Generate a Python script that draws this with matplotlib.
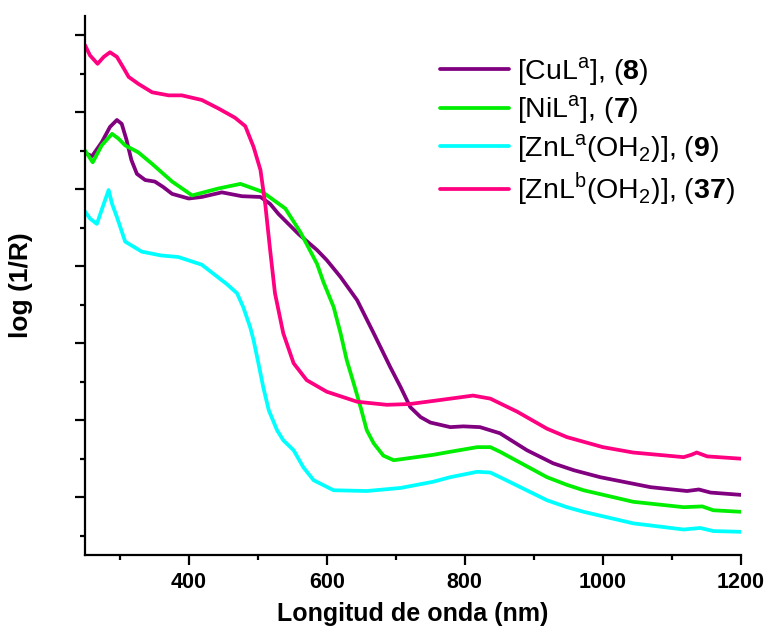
import numpy as np
import matplotlib
matplotlib.use("Agg")
import matplotlib.pyplot as plt
from matplotlib.ticker import MultipleLocator, NullFormatter

plt.rcParams['font.family'] = ['Liberation Sans', 'DejaVu Sans']
plt.rcParams['mathtext.fontset'] = 'custom'
plt.rcParams['mathtext.rm'] = 'Liberation Sans'
plt.rcParams['mathtext.bf'] = 'Liberation Sans:bold'

# Espectros de reflectancia difusa (unidades arbitrarias)
x_cu = [250, 260, 274, 286, 296, 303, 310, 317, 325, 337, 351, 363, 376, 400, 419,
        448, 477, 504, 518, 530, 559, 586, 600, 620, 644, 668, 692, 707, 721, 736,
        750, 779, 798, 822, 851, 890, 928, 958, 996, 1069, 1122, 1139, 1156, 1200]
y_cu = [5.47, 5.43, 5.61, 5.81, 5.90, 5.85, 5.64, 5.38, 5.20, 5.12, 5.10, 5.03, 4.94,
        4.88, 4.90, 4.96, 4.91, 4.90, 4.81, 4.68, 4.42, 4.21, 4.08, 3.86, 3.56, 3.13,
        2.69, 2.43, 2.17, 2.04, 1.97, 1.91, 1.92, 1.91, 1.83, 1.61, 1.44, 1.35, 1.26,
        1.13, 1.08, 1.10, 1.06, 1.03]

x_ni = [250, 261, 274, 289, 298, 308, 327, 347, 376, 405, 443, 475, 506, 540, 562,
        586, 595, 610, 620, 629, 639, 649, 658, 668, 682, 697, 754, 779, 818, 837,
        851, 919, 948, 972, 1044, 1117, 1144, 1160, 1200]
y_ni = [5.50, 5.35, 5.57, 5.72, 5.66, 5.57, 5.48, 5.33, 5.10, 4.92, 5.01, 5.07, 4.97,
        4.75, 4.44, 4.03, 3.80, 3.47, 3.13, 2.78, 2.48, 2.17, 1.87, 1.70, 1.54, 1.48,
        1.55, 1.59, 1.65, 1.65, 1.59, 1.26, 1.16, 1.09, 0.94, 0.87, 0.88, 0.83, 0.81]

x_zna = [250, 257, 267, 277, 284, 289, 296, 308, 332, 360, 385, 419, 455, 470, 479,
         489, 494, 501, 508, 516, 528, 537, 552, 566, 581, 610, 658, 707, 754, 779,
         818, 837, 851, 919, 948, 972, 1044, 1117, 1141, 1160, 1200]
y_zna = [4.71, 4.62, 4.55, 4.81, 4.99, 4.81, 4.64, 4.32, 4.19, 4.14, 4.12, 4.02, 3.77,
         3.65, 3.47, 3.21, 3.04, 2.74, 2.43, 2.13, 1.87, 1.74, 1.61, 1.39, 1.22, 1.09,
         1.08, 1.12, 1.20, 1.26, 1.33, 1.32, 1.26, 0.96, 0.87, 0.81, 0.66, 0.58, 0.60,
         0.56, 0.55]

x_znb = [250, 257, 268, 277, 286, 296, 306, 313, 327, 347, 371, 390, 419, 443, 467,
         482, 494, 504, 511, 518, 525, 537, 552, 571, 600, 644, 687, 720, 754, 779,
         812, 837, 876, 919, 948, 972, 1000, 1044, 1117, 1128, 1136, 1151, 1200]
y_znb = [6.87, 6.74, 6.63, 6.72, 6.78, 6.72, 6.57, 6.46, 6.37, 6.26, 6.22, 6.22, 6.16,
         6.05, 5.93, 5.82, 5.55, 5.25, 4.80, 4.21, 3.65, 3.13, 2.74, 2.52, 2.37, 2.24,
         2.20, 2.21, 2.25, 2.28, 2.32, 2.28, 2.11, 1.89, 1.78, 1.72, 1.65, 1.58, 1.52,
         1.55, 1.58, 1.53, 1.50]

etiquetas = [r'[CuL$^{\mathrm{a}}$], ($\mathbf{8}$)',
             r'[NiL$^{\mathrm{a}}$], ($\mathbf{7}$)',
             r'[ZnL$^{\mathrm{a}}$(OH$_{\mathrm{2}}$)], ($\mathbf{9}$)',
             r'[ZnL$^{\mathrm{b}}$(OH$_{\mathrm{2}}$)], ($\mathbf{37}$)']
colores = ['#800080', '#00ee00', '#00ffff', '#ff0080']

fig = plt.figure(figsize=(7.67, 6.43), dpi=100)
ax = fig.add_axes([0.111, 0.137, 0.855, 0.838])

series = [(x_cu, y_cu), (x_ni, y_ni), (x_zna, y_zna), (x_znb, y_znb)]
for (xs, ys), lab, c in zip(series, etiquetas, colores):
    ax.plot(xs, ys, color=c, lw=2.7, label=lab,
            solid_capstyle='round', solid_joinstyle='round')

ax.set_xlim(250, 1200)
ax.set_ylim(0.25, 7.25)
ax.xaxis.set_major_locator(MultipleLocator(200))
ax.xaxis.set_minor_locator(MultipleLocator(100))
ax.yaxis.set_major_locator(MultipleLocator(1))
ax.yaxis.set_minor_locator(MultipleLocator(0.5))
ax.yaxis.set_major_formatter(NullFormatter())

for s in ['top', 'right']:
    ax.spines[s].set_visible(False)
for s in ['left', 'bottom']:
    ax.spines[s].set_linewidth(1.6)

ax.tick_params(which='major', direction='out', length=7.5, width=1.6, pad=5)
ax.tick_params(which='minor', direction='out', length=3.5, width=1.6)
for t in ax.get_xticklabels():
    t.set_fontweight('bold')
    t.set_fontsize(15.5)

ax.set_xlabel('Longitud de onda (nm)', fontsize=18, fontweight='bold', labelpad=6)
ax.set_ylabel('log (1/R)', fontsize=19, fontweight='bold', labelpad=25)

ax.legend(loc='upper right', bbox_to_anchor=(1.03, 0.975), frameon=False,
          fontsize=20.5, handlelength=2.4, handletextpad=0.3, labelspacing=0.2)

fig.savefig('out.png', dpi=100)
